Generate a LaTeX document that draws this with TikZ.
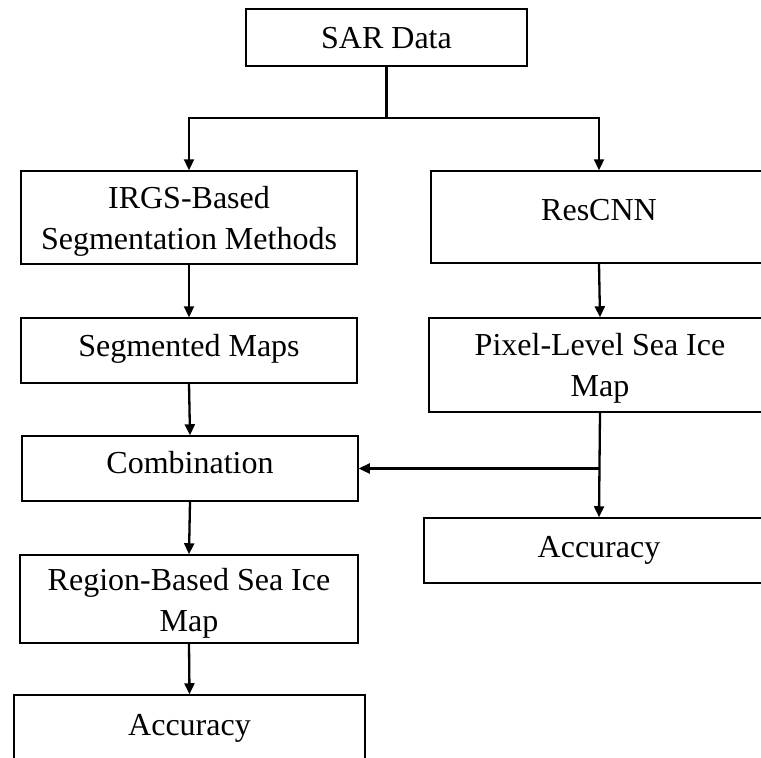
\documentclass[tikz,border=0pt]{standalone}
\usepackage{fontspec}
\setmainfont{Liberation Serif}
\usetikzlibrary{arrows.meta}
\begin{document}
\begin{tikzpicture}[x=1pt,y=-1pt,
  box/.style={draw, line width=1.5pt, font=\fontsize{32}{41}\selectfont, inner sep=0pt, align=center},
  conn/.style={line width=2.3pt},
  arr/.style={conn, -{Triangle[length=11pt,width=10pt]}}]
\fill[white] (0,0) rectangle (761,758);
\useasboundingbox (0,0) rectangle (761,758);
\clip (0,0) rectangle (761,758);
% boxes
\node[box, minimum width=281pt, minimum height=57pt, text height=21pt, text depth=0pt] (sar) at (386.5,37.5) {SAR Data};
\node[box, minimum width=336pt, minimum height=93pt] (irgs) at (189,217.5) {\rule{0pt}{30pt}IRGS-Based\\Segmentation Methods\rule[-8pt]{0pt}{0pt}};
\node[box, minimum width=336pt, minimum height=92pt, text height=21pt, text depth=14pt] (res) at (599,217) {ResCNN};
\node[box, minimum width=336pt, minimum height=65pt, text height=21pt, text depth=10pt] (seg) at (189,350.5) {Segmented Maps};
\node[box, minimum width=342pt, minimum height=94pt] (pix) at (600,365) {\rule{0pt}{29pt}Pixel-Level Sea Ice\\Map\rule[-8pt]{0pt}{0pt}};
\node[box, minimum width=336pt, minimum height=65pt, text height=21pt, text depth=11pt] (comb) at (190,468.5) {Combination};
\node[box, minimum width=350pt, minimum height=65pt, text height=21pt, text depth=8pt] (accr) at (599,550.5) {Accuracy};
\node[box, minimum width=338pt, minimum height=88pt] (reg) at (189,599) {\rule{0pt}{32pt}Region-Based Sea Ice\\Map\rule[-8pt]{0pt}{0pt}};
\node[box, minimum width=351pt, minimum height=65pt, text height=21pt, text depth=5pt] (accl) at (189.5,727.5) {Accuracy};
% connectors
\coordinate (split) at (sar.south |- 0,118);
\draw[conn] (sar.south) -- (split);
\draw[arr] (split) -| (irgs.north);
\draw[arr] (split) -| (res.north);
\draw[arr] (irgs.south) -- (seg.north);
\draw[arr] (res.south) -- (pix.north);
\draw[arr] (seg.south) -- (comb.north);
\draw[arr] (pix.south) -- (accr.north);
\coordinate (branch) at (pix.south |- comb.east);
\draw[arr] (branch) -- (comb.east);
\draw[arr] (comb.south) -- (reg.north);
\draw[arr] (reg.south) -- (accl.north);
\end{tikzpicture}
\end{document}
